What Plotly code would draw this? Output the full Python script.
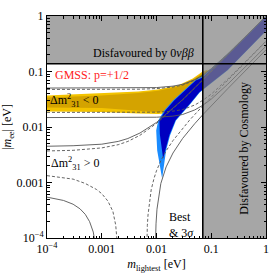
import plotly.graph_objects as go

# ---------------- data ----------------
m_grid = [1e-4, 3e-4, 1e-3, 2e-3, 3e-3, 5e-3, 0.01, 0.02, 0.03, 0.05, 0.07, 0.1, 0.2, 0.5, 1.0]

# inverted ordering (Δm²31 < 0) boundaries
io_best_upper = [0.0475, 0.0475, 0.0476, 0.0477, 0.0478, 0.048, 0.0492, 0.0524, 0.0568, 0.0697, 0.0851, 0.111, 0.205, 0.502, 1.0]
io_3s_upper = [0.0503, 0.0503, 0.0503, 0.0504, 0.0505, 0.0507, 0.0513, 0.0545, 0.0588, 0.0712, 0.0862, 0.112, 0.206, 0.503, 1.0]
io_best_lower = [0.0183, 0.0183, 0.0183, 0.0183, 0.0183, 0.0183, 0.0185, 0.0193, 0.0206, 0.0249, 0.0302, 0.0391, 0.073, 0.177, 0.352]
io_3s_lower = [0.0148, 0.0148, 0.0148, 0.0148, 0.0148, 0.0149, 0.0150, 0.0157, 0.0168, 0.0203, 0.0246, 0.0318, 0.059, 0.144, 0.286]

# normal ordering (Δm²31 > 0) upper boundaries
no_best_upper = [0.0037, 0.0038, 0.0042, 0.0048, 0.0055, 0.0071, 0.0116, 0.0211, 0.0308, 0.0505, 0.0703, 0.1003, 0.2, 0.5, 1.0]
no_3s_upper = [0.0045, 0.0046, 0.0049, 0.0055, 0.0062, 0.0078, 0.0121, 0.0215, 0.0311, 0.0508, 0.0706, 0.1004, 0.2, 0.5, 1.0]

# normal ordering lower boundaries (left branch, before cancellation)
no_best_low_left_m = [1e-4, 3e-4, 5e-4, 8e-4, 1e-3, 1.3e-3, 1.6e-3, 1.8e-3, 1.9e-3, 2.0e-3]
no_best_low_left = [1.33e-3, 1.15e-3, 9.6e-4, 7.5e-4, 6.3e-4, 4.6e-4, 3.0e-4, 1.7e-4, 9e-5, 3e-5]
no_3s_low_left_m = [1e-4, 2e-4, 3e-4, 4e-4, 5e-4, 6e-4, 7e-4, 8e-4]
no_3s_low_left = [5.45e-4, 4.75e-4, 4.06e-4, 3.36e-4, 2.67e-4, 1.97e-4, 1.28e-4, 5.8e-5]

# normal ordering lower boundaries (right branch, after cancellation)
no_best_low_right_m = [0.0065, 0.0066, 0.0068, 0.007, 0.0075, 0.008, 0.009, 0.01, 0.012, 0.015, 0.02, 0.03, 0.04, 0.05, 0.07, 0.1, 0.2, 0.5, 1.0]
no_best_low_right = [2e-5, 7e-5, 1.67e-4, 2.6e-4, 5e-4, 7.4e-4, 1.18e-3, 1.63e-3, 2.47e-3, 3.72e-3, 5.7e-3, 9.5e-3, 1.32e-2, 1.68e-2, 2.4e-2, 3.46e-2, 6.93e-2, 0.175, 0.35]
no_3s_low_right_m = [0.0094, 0.0096, 0.0098, 0.0102, 0.011, 0.012, 0.015, 0.02, 0.03, 0.04, 0.05, 0.07, 0.1, 0.2, 0.5, 1.0]
no_3s_low_right = [4e-5, 1.1e-4, 1.8e-4, 3.3e-4, 6.1e-4, 9.6e-4, 1.91e-3, 3.4e-3, 6.22e-3, 8.9e-3, 1.15e-2, 1.66e-2, 2.42e-2, 4.9e-2, 0.123, 0.246]

# GMSS p=+1/2 prediction, inverted ordering (gold band)
gold_m = [1e-4, 1e-3, 0.00467, 0.0107, 0.0246, 0.046, 0.0697, 0.0857]
gold_outer_top = [0.0370, 0.0402, 0.0437, 0.0475, 0.0561, 0.0751, 0.100, 0.108]
gold_outer_bot = [0.0191, 0.0187, 0.0175, 0.0172, 0.0183, 0.0301, 0.0495, 0.0585]
gold_inner_top = [0.0340, 0.0370, 0.0410, 0.0450, 0.0530, 0.0710, 0.094, 0.103]
gold_inner_bot = [0.0225, 0.0220, 0.0198, 0.0185, 0.0195, 0.0320, 0.052, 0.062]

# GMSS p=+1/2 prediction, normal ordering (blue band)
blue_outer_up_m = [0.01267, 0.0103, 0.00988, 0.01074, 0.01377, 0.02001, 0.03162, 0.05, 0.0697, 0.2, 0.45, 1.3]
blue_outer_up = [0.00118, 0.00377, 0.00865, 0.0131, 0.01985, 0.0301, 0.0456, 0.0691, 0.082, 0.21, 0.46, 1.3]
blue_outer_lo_m = [0.01267, 0.01496, 0.01767, 0.02268, 0.03033, 0.04228, 0.0615, 0.0757, 0.2, 0.45, 1.3]
blue_outer_lo = [0.00118, 0.00377, 0.00702, 0.0131, 0.01827, 0.02655, 0.04196, 0.0495, 0.105, 0.24, 0.70]
blue_inner_up_m = [0.0132, 0.0115, 0.0113, 0.0145, 0.021, 0.033, 0.052, 0.0697, 0.2, 0.45, 1.3]
blue_inner_up = [0.0027, 0.0075, 0.0131, 0.0199, 0.0301, 0.0456, 0.0691, 0.078, 0.2, 0.44, 1.25]
blue_inner_lo_m = [0.0132, 0.0148, 0.0172, 0.0222, 0.0298, 0.0415, 0.0605, 0.0745, 0.2, 0.45, 1.3]
blue_inner_lo = [0.0027, 0.0040, 0.0072, 0.0133, 0.0185, 0.0268, 0.0423, 0.050, 0.107, 0.245, 0.71]

# exclusion bounds
cosmo_bound = 0.07     # m_lightest
onbb_bound = 0.138     # |m_ee|
axis_min, axis_max = 1e-4, 1.0

tick_vals = [1e-4, 1e-3, 1e-2, 1e-1, 1.0]
tick_text = ["10<sup>−4</sup>", "0.001", "0.01", "0.1", "1"]
minor_vals = [k * 10 ** e for e in range(-4, 0) for k in range(2, 10)]

# ---------------- figure ----------------
FONT = "Liberation Serif, Times New Roman, serif"
fig = go.Figure()


def band(xu, yu, xl, yl, color):
    fig.add_trace(go.Scatter(x=list(xu) + list(xl)[::-1], y=list(yu) + list(yl)[::-1],
                             mode="lines", fill="toself", fillcolor=color,
                             line=dict(width=0), hoverinfo="skip", showlegend=False))


def curve(x, y, dashed):
    fig.add_trace(go.Scatter(x=x, y=y, mode="lines", hoverinfo="skip", showlegend=False,
                             line=dict(color="#555555", width=0.9,
                                       dash="3px,2px" if dashed else "solid")))


band(gold_m, gold_outer_top, gold_m, gold_outer_bot, "#f3c300")
band(gold_m, gold_inner_top, gold_m, gold_inner_bot, "#d4a300")
band(blue_outer_up_m, blue_outer_up, blue_outer_lo_m, blue_outer_lo, "#1a8cff")
band(blue_inner_up_m, blue_inner_up, blue_inner_lo_m, blue_inner_lo, "#0000c0")

curve(m_grid, io_best_upper, True)
curve(m_grid, io_3s_upper, False)
curve(m_grid, io_best_lower, True)
curve(m_grid, io_3s_lower, False)
curve(m_grid, no_best_upper, True)
curve(m_grid, no_3s_upper, False)
curve(no_best_low_left_m, no_best_low_left, True)
curve(no_3s_low_left_m, no_3s_low_left, False)
curve(no_best_low_right_m, no_best_low_right, True)
curve(no_3s_low_right_m, no_3s_low_right, False)

# disfavoured regions (semi-transparent grey overlay)
fig.add_trace(go.Scatter(
    x=[cosmo_bound, axis_max, axis_max, axis_min, axis_min, cosmo_bound, cosmo_bound],
    y=[axis_min, axis_min, axis_max, axis_max, onbb_bound, onbb_bound, axis_min],
    mode="lines", fill="toself", fillcolor="rgba(128,128,128,0.7)",
    line=dict(width=0), hoverinfo="skip", showlegend=False))

# boundary lines
fig.add_trace(go.Scatter(x=[cosmo_bound, cosmo_bound], y=[axis_min, axis_max], mode="lines",
                         line=dict(color="black", width=1.6), hoverinfo="skip", showlegend=False))
fig.add_trace(go.Scatter(x=[axis_min, axis_max], y=[onbb_bound, onbb_bound], mode="lines",
                         line=dict(color="black", width=1.6), hoverinfo="skip", showlegend=False))

axis_common = dict(type="log", range=[-4, 0], tickvals=tick_vals, ticktext=tick_text,
                   ticks="inside", ticklen=5, tickcolor="black", showline=True, linecolor="black",
                   linewidth=1, mirror="allticks", showgrid=False, zeroline=False,
                   tickfont=dict(family=FONT, size=12, color="black"),
                   minor=dict(tickvals=minor_vals, ticks="inside", ticklen=2.5, tickcolor="black",
                              showgrid=False))

fig.update_layout(
    width=273, height=274,
    margin=dict(l=47, r=4, t=16, b=36),
    paper_bgcolor="white", plot_bgcolor="white",
    font=dict(family=FONT, size=12, color="black"),
    xaxis=dict(**axis_common,
               title=dict(text="<i>m</i><sub>lightest</sub> [eV]", standoff=4,
                          font=dict(family=FONT, size=12))),
    yaxis=dict(**axis_common,
               title=dict(text="|<i>m</i><sub>ee</sub>| [eV]", standoff=2,
                          font=dict(family=FONT, size=12))),
)

ann = dict(showarrow=False, font=dict(family=FONT, size=12, color="black"), xref="x", yref="y")
fig.add_annotation(text="Disfavoured by 0<i>νββ</i>", x=-2.24, y=-0.66, **ann)
fig.add_annotation(text="Disfavoured by Cosmology", x=-0.40, y=-2.39, textangle=-90, **ann)
fig.add_annotation(text="GMSS: p=+1/2", x=-3.885, y=-1.07, xanchor="left",
                   showarrow=False, xref="x", yref="y",
                   font=dict(family=FONT, size=12, color="#ff1a1a"))
fig.add_annotation(text="Δm<sup>2</sup><sub>31</sub> < 0", x=-3.98, y=-1.52, xanchor="left", **ann)
fig.add_annotation(text="Δm<sup>2</sup><sub>31</sub> > 0", x=-3.96, y=-2.66, xanchor="left", **ann)
fig.add_annotation(text="Best<br>& 3<i>σ</i>", x=-1.81, y=-3.76, xanchor="left", align="left", **ann)

fig.write_html("out.html", config={"displayModeBar": False},
               post_script="document.body.style.margin='0';document.body.style.padding='0';")
